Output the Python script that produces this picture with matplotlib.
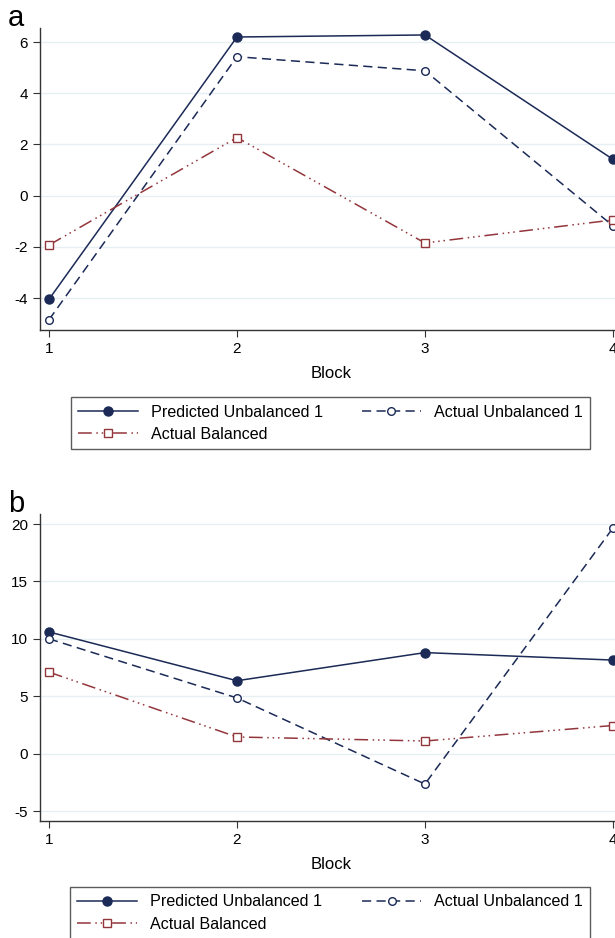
import matplotlib
matplotlib.use("Agg")
import matplotlib.pyplot as plt

blocks = [1, 2, 3, 4]

# panel a
pred_a = [-4.05, 6.2, 6.28, 1.42]
act_unb_a = [-4.85, 5.43, 4.88, -1.18]
act_bal_a = [-1.93, 2.27, -1.85, -0.95]

# panel b
pred_b = [10.6, 6.35, 8.8, 8.15]
act_unb_b = [10.0, 4.85, -2.65, 19.65]
act_bal_b = [7.1, 1.45, 1.1, 2.45]

yticks_a = [-4, -2, 0, 2, 4, 6]
yticks_b = [-5, 0, 5, 10, 15, 20]

navy = '#1b2a56'
maroon = '#93363c'

plt.rcParams['font.family'] = ['Liberation Sans', 'DejaVu Sans']
plt.rcParams['axes.unicode_minus'] = False

fig = plt.figure(figsize=(6.15, 9.38), dpi=100)


def panel(rect, pred, unb, bal, yticks, ylim, leg_box, letter, letter_y):
    ax = fig.add_axes(rect)
    h1, = ax.plot(blocks, pred, color=navy, lw=1.1, marker='o', ms=6.5,
                  mfc=navy, mec=navy, label='Predicted Unbalanced 1', zorder=3)
    h2, = ax.plot(blocks, unb, color=navy, lw=1.1, ls=(0, (6, 3.5)), marker='o', ms=5.5,
                  mfc='white', mec=navy, mew=1.0, label='Actual Unbalanced 1', zorder=3)
    h3, = ax.plot(blocks, bal, color=maroon, lw=1.1, ls=(0, (9, 3, 1, 2.5, 1, 2.5, 1, 3)),
                  marker='s', ms=5.5, mfc='white', mec=maroon, mew=1.0,
                  label='Actual Balanced', zorder=3)
    ax.set_xlim(0.952, 4.048)
    ax.set_ylim(*ylim)
    ax.set_xticks(blocks)
    ax.set_yticks(yticks)
    ax.grid(axis='y', color='#e6eff1', lw=1.0)
    ax.set_axisbelow(True)
    for s in ['top', 'right']:
        ax.spines[s].set_visible(False)
    for s in ['left', 'bottom']:
        ax.spines[s].set_color('#333333')
        ax.spines[s].set_linewidth(1.0)
    ax.tick_params(direction='out', length=5, width=0.8, labelsize=11, color='#333333')
    ax.set_xlabel('Block', fontsize=12, labelpad=7)
    # column-major fill: order so rows read Predicted / Actual Unbalanced, then Actual Balanced
    leg = ax.legend([h1, h3, h2], [h1.get_label(), h3.get_label(), h2.get_label()],
                    loc='lower left', bbox_to_anchor=leg_box, bbox_transform=fig.transFigure,
                    mode='expand', ncol=2, fontsize=11.6, frameon=True, fancybox=False,
                    edgecolor='#333333', handlelength=3.7, borderaxespad=0,
                    borderpad=0.45, labelspacing=0.45, columnspacing=2.0, handletextpad=0.8)
    leg.get_frame().set_linewidth(1.0)
    fig.text(0.013, letter_y, letter, fontsize=21, va='baseline', ha='left')
    return ax


panel([0.065, 0.6482, 0.9463, 0.3219], pred_a, act_unb_a, act_bal_a,
      yticks_a, (-5.25, 6.55), (0.1154, 0.5213, 0.844, 0.0555), 'a', 1 - 26 / 938)
panel([0.065, 0.1247, 0.9463, 0.3273], pred_b, act_unb_b, act_bal_b,
      yticks_b, (-5.87, 20.87), (0.1138, -0.001, 0.846, 0.0555), 'b', 1 - 512 / 938)

fig.savefig('out.png', dpi=100)
